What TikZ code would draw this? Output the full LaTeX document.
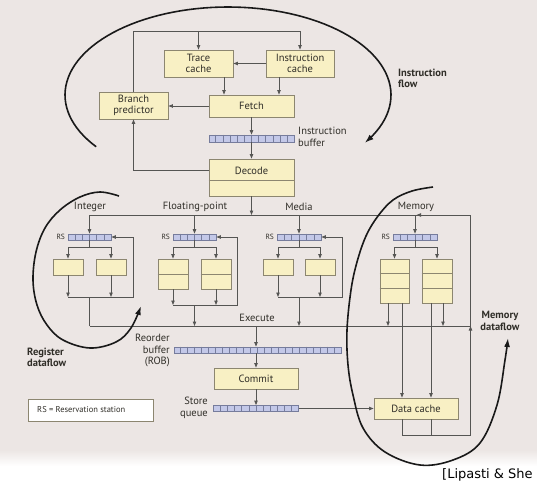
\documentclass[tikz,border=0pt]{standalone}
\usepackage{fontspec}
\setmainfont{PT Sans}
\newfontfamily\creditfont{DejaVu Sans}
\usetikzlibrary{arrows.meta,calc}

\definecolor{bgtone}{HTML}{ECE6E4}
\definecolor{boxfill}{HTML}{F8F0C4}
\definecolor{boxedge}{HTML}{8C8670}
\definecolor{wirecol}{HTML}{555553}
\definecolor{cellfill}{HTML}{C3C8E8}
\definecolor{celledge}{HTML}{767C9C}
\definecolor{inktext}{HTML}{302E28}

\tikzset{
  unit/.style={draw=boxedge, fill=boxfill, line width=0.8pt, inner sep=0pt,
    align=center, font=\fontsize{10.5}{11}\selectfont, text=inktext},
  divider/.style={draw=boxedge, line width=0.8pt},
  queue/.style={draw=celledge, fill=cellfill, line width=0.7pt, inner sep=0pt},
  cellsep/.style={draw=celledge, line width=0.6pt},
  wire/.style={draw=wirecol, line width=0.8pt},
  flow/.style={wire, -{Triangle[length=4.5pt,width=3.4pt]}},
  sweep/.style={line width=1.6pt, draw=black!90, -{Latex[length=9pt,width=6pt]}},
  lbl/.style={font=\fontsize{10.5}{11.5}\selectfont, text=inktext, inner sep=0pt, align=center},
  rstag/.style={font=\fontsize{7.5}{8}\selectfont, text=inktext, inner sep=0pt},
  biglbl/.style={font=\bfseries\fontsize{10.5}{11.5}\selectfont, text=inktext, inner sep=0pt},
}

% cell dividers inside a queue node: #1 node name, #2 number of cells
\newcommand{\qcells}[2]{%
  \pgfmathtruncatemacro{\lastdiv}{#2-1}%
  \foreach \k in {1,...,\lastdiv}{%
    \draw[cellsep] ($(#1.north west)!\k/#2!(#1.north east)$) -- ($(#1.south west)!\k/#2!(#1.south east)$);}}

\begin{document}
\begin{tikzpicture}[x=1pt,y=-1pt]
\useasboundingbox (0,0) rectangle (537,484);
\fill[white] (0,0) rectangle (537,484);
\fill[bgtone] (0,0) rectangle (537,450);
\shade[top color=bgtone, bottom color=white] (0,450) rectangle (537,466);

% ---------------- front end ----------------
\node[unit, minimum width=69pt, minimum height=27pt] (trace) at (198.5,63.5) {Trace\\cache};
\node[unit, minimum width=68pt, minimum height=27pt] (icache) at (300,63.5) {Instruction\\cache};
\node[unit, minimum width=85pt, minimum height=22pt] (fetch) at (251.5,106) {Fetch};
\node[unit, minimum width=69pt, minimum height=27pt] (bpred) at (133.5,105.5) {Branch\\predictor};
\node[queue, minimum width=85pt, minimum height=7pt] (ibuf) at (251.5,138.5) {};
\qcells{ibuf}{12}
\node[lbl, anchor=west, align=left] (ibuflbl) at (298,137) {Instruction\\buffer};
\node[unit, minimum width=85pt, minimum height=37pt] (decode) at (251.5,177.5) {};
\draw[divider] ($(decode.north west)+(0pt,-22pt)$) -- ($(decode.north east)+(0pt,-22pt)$);
\node[lbl] (decodetxt) at (251.5,170.5) {Decode};

\coordinate (topleft) at (133.5,31);
\coordinate (topright) at (300,31);
\draw[flow] (bpred.north) -- (topleft) -- (topright) -- (icache.north);
\draw[flow] (trace.north |- topleft) -- (trace.north);
\draw[flow] (icache.west) -- (trace.east);
\coordinate (tcout) at ([xshift=25.5pt]trace.south);
\coordinate (icout) at ([xshift=-21pt]icache.south);
\draw[flow] (tcout) -- (tcout |- fetch.north);
\draw[flow] (icout) -- (icout |- fetch.north);
\draw[flow] (fetch.west) -- (fetch.west -| bpred.east);
\draw[flow] (fetch.south) -- (ibuf.north);
\draw[flow] (ibuf.south) -- (decode.north);
\draw[flow] ([yshift=7.5pt]decode.west) -| (bpred.south);

% ---------------- dispatch bus ----------------
\coordinate (busL) at (89.5,215);
\coordinate (busR) at (470.5,215);
\coordinate (exL) at (89.5,326);
\coordinate (exR) at (470.5,326);
\draw[flow] (decode.south) -- (decode.south |- busL);
\draw[wire] (busL) -- (busR);

\node[lbl] (intlbl) at (90,207) {Integer};
\node[lbl] (fplbl) at (195,207) {Floating-point};
\node[lbl] (mdlbl) at (299,207) {Media};
\node[lbl] (mmlbl) at (416,207) {Memory};

% ---------------- integer ----------------
\node[queue, minimum width=43pt, minimum height=6pt] (intrs) at (89.5,237) {};
\qcells{intrs}{6}
\node[rstag, anchor=east] (intrsl) at ([xshift=-2.5pt]intrs.west) {RS};
\node[unit, minimum width=30pt, minimum height=16pt] (alu1) at (68,267) {};
\node[unit, minimum width=30pt, minimum height=16pt] (alu2) at (111,267) {};
\coordinate (intsplit) at (89.5,247);
\coordinate (intjoin) at (89.5,297);
\coordinate (intloop) at (133,297);
\draw[flow] (intrs.north |- busL) -- (intrs.north);
\draw[wire] (intrs.south) -- (intsplit);
\draw[wire] (alu1.north |- intsplit) -- (alu2.north |- intsplit);
\draw[flow] (alu1.north |- intsplit) -- (alu1.north);
\draw[flow] (alu2.north |- intsplit) -- (alu2.north);
\draw[flow] (alu1.south) -- (alu1.south |- intloop);
\draw[flow] (alu2.south) -- (alu2.south |- intloop);
\draw[flow] (alu1.south |- intloop) -- (intloop) |- (intrs.east);
\draw[wire] (intjoin) -- (exL);

% ---------------- floating point ----------------
\node[queue, minimum width=43pt, minimum height=6pt] (fprs) at (194.5,237) {};
\qcells{fprs}{6}
\node[rstag, anchor=east] (fprsl) at ([xshift=-2.5pt]fprs.west) {RS};
\node[unit, minimum width=30pt, minimum height=30pt] (fpu1) at (173,274) {};
\node[unit, minimum width=30pt, minimum height=30pt] (fpu2) at (216,274) {};
\draw[divider] (fpu1.west) -- (fpu1.east);
\draw[divider] (fpu2.west) -- (fpu2.east);
\coordinate (fpsplit) at (194.5,247);
\coordinate (fpjoin) at (194.5,305);
\coordinate (fploop) at (237,305);
\draw[flow] (fprs.north |- busL) -- (fprs.north);
\draw[wire] (fprs.south) -- (fpsplit);
\draw[wire] (fpu1.north |- fpsplit) -- (fpu2.north |- fpsplit);
\draw[flow] (fpu1.north |- fpsplit) -- (fpu1.north);
\draw[flow] (fpu2.north |- fpsplit) -- (fpu2.north);
\draw[flow] (fpu1.south) -- (fpu1.south |- fploop);
\draw[flow] (fpu2.south) -- (fpu2.south |- fploop);
\draw[flow] (fpu1.south |- fploop) -- (fploop) |- (fprs.east);
\draw[flow] (fpjoin) -- (fpjoin |- exL);

% ---------------- media ----------------
\node[queue, minimum width=44pt, minimum height=6pt] (mdrs) at (299,237) {};
\qcells{mdrs}{6}
\node[rstag, anchor=east] (mdrsl) at ([xshift=-2.5pt]mdrs.west) {RS};
\node[unit, minimum width=30pt, minimum height=16pt] (mdu1) at (278,267) {};
\node[unit, minimum width=30pt, minimum height=16pt] (mdu2) at (320,267) {};
\coordinate (mdsplit) at (299,247);
\coordinate (mdjoin) at (299,297);
\coordinate (mdloop) at (342,297);
\draw[flow] (mdrs.north |- busL) -- (mdrs.north);
\draw[wire] (mdrs.south) -- (mdsplit);
\draw[wire] (mdu1.north |- mdsplit) -- (mdu2.north |- mdsplit);
\draw[flow] (mdu1.north |- mdsplit) -- (mdu1.north);
\draw[flow] (mdu2.north |- mdsplit) -- (mdu2.north);
\draw[flow] (mdu1.south) -- (mdu1.south |- mdloop);
\draw[flow] (mdu2.south) -- (mdu2.south |- mdloop);
\draw[flow] (mdu1.south |- mdloop) -- (mdloop) |- (mdrs.east);
\draw[flow] (mdjoin) -- (mdjoin |- exL);

% ---------------- memory ----------------
\node[queue, minimum width=44pt, minimum height=6pt] (mmrs) at (415,237) {};
\qcells{mmrs}{6}
\node[rstag, anchor=east] (mmrsl) at ([xshift=-2.5pt]mmrs.west) {RS};
\node[unit, minimum width=29pt, minimum height=44pt] (mmu1) at (394.5,281) {};
\node[unit, minimum width=30pt, minimum height=44pt] (mmu2) at (437,281) {};
\foreach \u in {mmu1,mmu2}{
  \draw[divider] ($(\u.north west)!1/3!(\u.south west)$) -- ($(\u.north east)!1/3!(\u.south east)$);
  \draw[divider] ($(\u.north west)!2/3!(\u.south west)$) -- ($(\u.north east)!2/3!(\u.south east)$);
}
\coordinate (mmsplit) at (415,247);
\coordinate (mmtap) at (416.5,215);
\draw[flow] (mmrs.north |- busL) -- (mmrs.north);
\draw[wire] (mmrs.south) -- (mmsplit);
\draw[wire] (mmu1.north |- mmsplit) -- (mmu2.north |- mmsplit);
\draw[flow] (mmu1.north |- mmsplit) -- (mmu1.north);
\draw[flow] (mmu2.north |- mmsplit) -- (mmu2.north);

\node[unit, minimum width=84pt, minimum height=21pt] (dcache) at (416,408.5) {Data cache};
\coordinate (ld1) at ([xshift=-6.5pt]mmu1.south);
\coordinate (st1) at ([xshift=7.5pt]mmu1.south);
\coordinate (st2) at ([xshift=-6pt]mmu2.south);
\coordinate (ld2) at ([xshift=6pt]mmu2.south);
\coordinate (dcret) at (470.5,435);
\draw[flow] (ld1) -- (ld1 |- exL);
\draw[flow] (ld2) -- (ld2 |- exL);
\draw[flow] (st1) -- (st1 |- dcache.north);
\draw[flow] (st2) -- (st2 |- dcache.north);
\draw[wire] (st1 |- dcache.south) -- (st1 |- dcret) -- (dcret);
\draw[wire] (st2 |- dcache.south) -- (st2 |- dcret);
\draw[flow] (dcret) -- (exR);
\draw[flow] (exR) -- (busR) -- (mmtap);

% ---------------- execute / retire ----------------
\draw[wire] (exL) -- (exR);
\node[lbl] (exlbl) at (257,317.5) {Execute};
\node[queue, minimum width=167pt, minimum height=6pt] (rob) at (257.5,350) {};
\qcells{rob}{24}
\node[lbl, anchor=east, align=right] (roblbl) at (170,350.5) {Reorder\\buffer\\(ROB)};
\coordinate (robtap) at (256,326);
\draw[flow] (robtap) -- (robtap |- rob.north);
\node[unit, minimum width=84pt, minimum height=21pt] (commit) at (256,378.5) {Commit};
\draw[flow] (robtap |- rob.south) -- (commit.north);
\node[queue, minimum width=85pt, minimum height=6pt] (sq) at (256,408.5) {};
\qcells{sq}{12}
\node[lbl, anchor=east, align=right] (sqlbl) at (208,408) {Store\\queue};
\draw[flow] (commit.south) -- (sq.north);
\draw[flow] (sq.east) -- (dcache.west);

% ---------------- legend and credit ----------------
\node[draw=boxedge, fill=white, line width=0.8pt, minimum width=125pt, minimum height=22pt, inner sep=0pt] (legend) at (90.5,410) {};
\node[font=\fontsize{8.5}{9}\selectfont, text=inktext, anchor=west, inner sep=0pt] (legendtxt) at (37,410) {RS = Reservation station};
\node[font=\creditfont\fontsize{13}{14}\selectfont, text=black, anchor=west, inner sep=0pt] (credit) at (442,474.5) {[Lipasti \& She};

% ---------------- flow sweeps ----------------
\draw[sweep] plot[domain=144:393, samples=90, variable=\t] ({228+163*cos(\t)},{95+88*sin(\t)});
\node[biglbl, anchor=west, align=left] (iflow) at (398,78.5) {Instruction\\flow};

\draw[sweep] plot[smooth, tension=0.6] coordinates {(119,196) (100,192) (80,197) (60,210) (45,228) (36,252) (33,280) (37,305) (47,325) (63,340) (90,348) (116,342) (131,328) (141,306)};
\node[biglbl, anchor=west, align=left] (rflow) at (27,357.5) {Register\\dataflow};

\draw[sweep] plot[smooth, tension=0.6] coordinates {(433,187) (412,191) (393,200) (378,216) (366,236) (357,262) (351,290) (347,330) (348,365) (353,395) (363,428) (385,452) (420,465) (453,460) (480,443) (497,405) (505,360) (508,338)};
\node[biglbl, align=center] (mflow) at (500,321) {Memory\\dataflow};
\end{tikzpicture}
\end{document}
